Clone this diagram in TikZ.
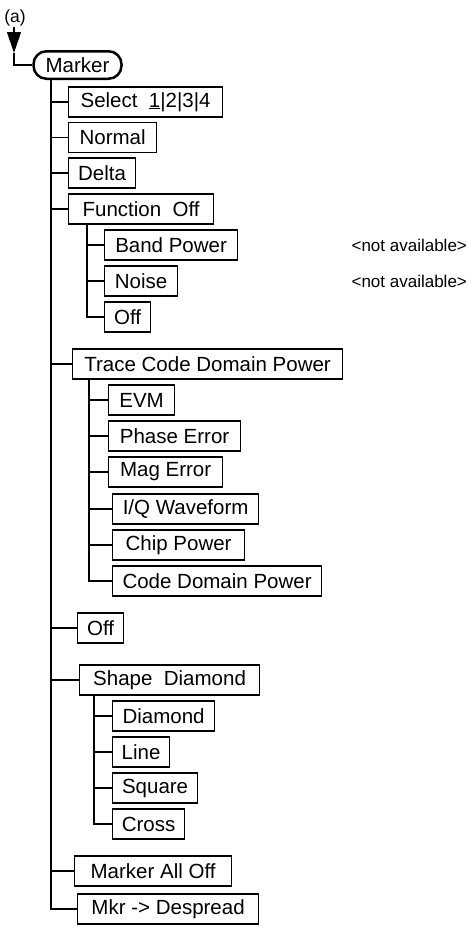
\documentclass[tikz,border=0pt]{standalone}
\usepackage{fontspec}
\setmainfont{Liberation Sans}
\usetikzlibrary{arrows.meta}

\begin{document}
\begin{tikzpicture}[x=1pt, y=-1pt, font=\fontsize{20.5}{24}\selectfont, line width=1.2pt]
\tikzstyle{box}=[draw, anchor=west, minimum height=30pt, inner sep=0pt]
\tikzstyle{mkr}=[draw, line width=2.5pt, rounded corners=13pt, minimum width=88pt, minimum height=27.5pt, inner sep=0pt]
\tikzstyle{note}=[anchor=west, inner sep=0pt, font=\fontsize{17}{20}\selectfont]
\useasboundingbox (0,0) rectangle (468,927);
\node[font=\fontsize{17.5}{20}\selectfont, inner sep=1pt] (lbl) at (15,17.5) {(a)};
\node[mkr] (marker) at (77.5,65) {Marker};
% first level
\node[box, minimum width=154pt] (sel) at (68,102) {Select~~\underline{1}|2|3|4};
\node[box, minimum width=88pt] (nrm) at (68,137.5) {Normal};
\node[box, minimum width=67pt] (dlt) at (68,173) {Delta};
\node[box, minimum width=145pt] (fun) at (68,209) {Function~~Off};
\node[box, minimum width=270pt] (trc) at (72,364) {Trace Code Domain Power};
\node[box, minimum width=46pt] (off) at (77,628) {Off};
\node[box, minimum width=180pt] (shp) at (79,680) {Shape~~Diamond};
\node[box, minimum width=157pt] (all) at (74,871) {Marker All Off};
\node[box, minimum width=181pt] (dsp) at (77,909) {Mkr -> Despread};
% function
\node[box, minimum width=133pt] (bnd) at (104,245) {Band Power};
\node[box, minimum width=73pt] (noi) at (104,281) {Noise};
\node[box, minimum width=46pt] (fof) at (104,317) {Off};
\node[note] (na1) at (351,245) {<not available>};
\node[note] (na2) at (351,281) {<not available>};
% trace
\node[box, minimum width=66pt] (evm) at (108,400) {EVM};
\node[box, minimum width=132pt] (phs) at (108,436) {Phase Error};
\node[box, minimum width=114pt] (mag) at (108,472) {Mag Error};
\node[box, minimum width=146pt] (iqw) at (112,509) {I/Q Waveform};
\node[box, minimum width=132pt] (chp) at (112,545) {Chip Power};
\node[box, minimum width=209pt] (cdp) at (112,581) {Code Domain Power};
% shape
\node[box, minimum width=102pt] (dia) at (112,716) {Diamond};
\node[box, minimum width=57pt] (lin) at (112,752) {Line};
\node[box, minimum width=85pt] (sqr) at (112,788) {Square};
\node[box, minimum width=72pt] (crs) at (112,824) {Cross};
% connectors
\coordinate (tip) at (14,53);
\draw[-{Triangle[length=21pt,width=14pt]}] (lbl.south -| tip) -- (tip);
\draw (tip) |- (marker.west);
\coordinate (mtop) at (51,80);
\foreach \n in {sel,nrm,dlt,fun,trc,off,shp,all,dsp} \draw (mtop) |- (\n.west);
\coordinate (ftop) at (87,224);
\foreach \n in {bnd,noi,fof} \draw (ftop) |- (\n.west);
\coordinate (ttop) at (89,379);
\foreach \n in {evm,phs,mag,iqw,chp,cdp} \draw (ttop) |- (\n.west);
\coordinate (stop) at (94,695);
\foreach \n in {dia,lin,sqr,crs} \draw (stop) |- (\n.west);
\end{tikzpicture}
\end{document}
